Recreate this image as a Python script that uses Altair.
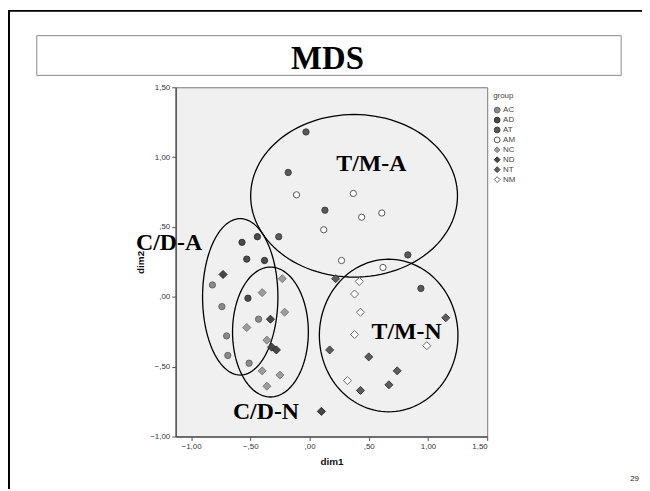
import altair as alt
import numpy as np
import pandas as pd

# ---- data ----
groups = ["AC", "AD", "AT", "AM", "NC", "ND", "NT", "NM"]

AC_x = [-0.82, -0.74, -0.43, -0.70, -0.69, -0.51]
AC_y = [0.085, -0.07, -0.16, -0.28, -0.42, -0.475]
AD_x = [-0.57, -0.44, -0.53, -0.38, -0.52]
AD_y = [0.39, 0.43, 0.27, 0.26, -0.01]
AT_x = [-0.03, -0.18, 0.13, -0.26, 0.83, 0.94]
AT_y = [1.18, 0.89, 0.62, 0.43, 0.30, 0.06]
AM_x = [-0.11, 0.37, 0.61, 0.44, 0.12, 0.27, 0.62]
AM_y = [0.73, 0.74, 0.60, 0.57, 0.48, 0.26, 0.21]
NC_x = [-0.23, -0.40, -0.21, -0.53, -0.36, -0.40, -0.25, -0.36]
NC_y = [0.13, 0.03, -0.11, -0.22, -0.31, -0.53, -0.56, -0.64]
ND_x = [-0.73, -0.33, -0.32, -0.28, 0.10]
ND_y = [0.16, -0.16, -0.36, -0.38, -0.82]
NT_x = [0.22, 0.17, 0.50, 0.74, 0.67, 0.43, 1.15]
NT_y = [0.13, -0.38, -0.43, -0.53, -0.63, -0.67, -0.15]
NM_x = [0.42, 0.38, 0.43, 0.38, 0.32, 0.99]
NM_y = [0.11, 0.02, -0.11, -0.27, -0.60, -0.35]

fills = ["#8a8a8a", "#4b4b4b", "#595959", "#ffffff", "#9c9c9c", "#474747", "#5c5c5c", "#ffffff"]
strokes = ["#666666", "#333333", "#404040", "#555555", "#7c7c7c", "#2e2e2e", "#3f3f3f", "#6a6a6a"]
shapes = ["circle"] * 4 + ["diamond"] * 4
circle_groups = groups[:4]
diamond_groups = groups[4:]

# ellipse annotations: name, centre x, centre y, radius x, radius y (data units)
ell_names = ["T/M-A", "C/D-A", "C/D-N", "T/M-N"]
ell_cx = [0.376, -0.585, -0.33, 0.668]
ell_cy = [0.723, 0.0, -0.252, -0.277]
ell_rx = [0.873, 0.318, 0.32, 0.585]
ell_ry = [0.582, 0.56, 0.465, 0.546]

# cluster labels
lab_text = ["T/M-A", "C/D-A", "C/D-N", "T/M-N"]
lab_x = [0.522, -1.186, -0.368, 0.819]
lab_y = [0.95, 0.383, -0.823, -0.255]

ticks = [-1.0, -0.5, 0.0, 0.5, 1.0, 1.5]

# ---- build tables ----
xs = [AC_x, AD_x, AT_x, AM_x, NC_x, ND_x, NT_x, NM_x]
ys = [AC_y, AD_y, AT_y, AM_y, NC_y, ND_y, NT_y, NM_y]
rows = []
for g, gx, gy in zip(groups, xs, ys):
    for a, b in zip(gx, gy):
        rows.append({"dim1": a, "dim2": b, "group": g})
pts = pd.DataFrame(rows)

t = np.linspace(0, 2 * np.pi, 121)
erows = []
for n, cx, cy, rx, ry in zip(ell_names, ell_cx, ell_cy, ell_rx, ell_ry):
    for i, a in enumerate(t):
        erows.append({"e": n, "i": i, "x": cx + rx * np.cos(a), "y": cy + ry * np.sin(a)})
ell = pd.DataFrame(erows)

labs = pd.DataFrame({"t": lab_text, "x": lab_x, "y": lab_y})

W, H = 314, 352
xscale = alt.Scale(domain=[-1.13, 1.5], nice=False, zero=False)
yscale = alt.Scale(domain=[-1.0, 1.5], nice=False, zero=False)
lblexpr = "replace(replace(format(datum.value, '.2f'), '0.', '.'), '.', ',')"

xaxis = alt.Axis(values=ticks, labelExpr=lblexpr, title="dim1", grid=False)
yaxis = alt.Axis(values=ticks, labelExpr=lblexpr, title="dim2", grid=False)

enc = dict(
    x=alt.X("dim1:Q", scale=xscale, axis=xaxis),
    y=alt.Y("dim2:Q", scale=yscale, axis=yaxis),
    fill=alt.Fill("group:N", scale=alt.Scale(domain=groups, range=fills), title="group"),
    stroke=alt.Stroke("group:N", scale=alt.Scale(domain=groups, range=strokes), title="group"),
    shape=alt.Shape("group:N", scale=alt.Scale(domain=groups, range=shapes), title="group"),
)

circles = alt.Chart(pts).transform_filter(
    alt.FieldOneOfPredicate(field="group", oneOf=circle_groups)
).mark_point(size=40, strokeWidth=1, opacity=1, filled=False).encode(**enc)

diamonds = alt.Chart(pts).transform_filter(
    alt.FieldOneOfPredicate(field="group", oneOf=diamond_groups)
).mark_point(size=66, strokeWidth=1, opacity=1, filled=False).encode(**enc)

ellipses = alt.Chart(ell).mark_line(color="black", strokeWidth=1.3, clip=False).encode(
    x=alt.X("x:Q", scale=xscale),
    y=alt.Y("y:Q", scale=yscale),
    detail="e:N",
    order="i:Q",
)

labels = alt.Chart(labs).mark_text(
    font="Liberation Serif", fontWeight="bold", fontSize=24, color="black", clip=False
).encode(
    x=alt.X("x:Q", scale=xscale),
    y=alt.Y("y:Q", scale=yscale),
    text="t:N",
)

# slide decorations (pixel positions relative to plot origin)
box = alt.Chart(pd.DataFrame({"a": [0]})).mark_rect(
    fill="white", stroke="#8a8a8a", strokeWidth=1
).encode(x=alt.value(-140), x2=alt.value(449), y=alt.value(-52), y2=alt.value(-12))

title = alt.Chart(pd.DataFrame({"t": ["MDS"]})).mark_text(
    font="Liberation Serif", fontWeight="bold", fontSize=33, color="black", baseline="middle"
).encode(x=alt.value(153), y=alt.value(-28), text="t:N")

topline = alt.Chart(pd.DataFrame({"a": [0]})).mark_rule(color="black", strokeWidth=2).encode(
    x=alt.value(-169), x2=alt.value(472), y=alt.value(-77)
)
leftline = alt.Chart(pd.DataFrame({"a": [0]})).mark_rule(color="black", strokeWidth=2).encode(
    x=alt.value(-168), y=alt.value(-78), y2=alt.value(405)
)
pagenum = alt.Chart(pd.DataFrame({"t": ["29"]})).mark_text(
    font="Liberation Sans", fontSize=8, color="#222", align="right"
).encode(x=alt.value(467), y=alt.value(395), text="t:N")

chart = alt.layer(
    topline, leftline, box, title, pagenum, ellipses, circles, diamonds, labels
).properties(
    width=W, height=H,
    autosize=alt.AutoSizeParams(type="none"),
    padding={"left": 169, "top": 78, "right": 156, "bottom": 52},
).configure_view(
    fill="#f0f0f0", stroke="#777777", strokeWidth=1
).configure_axis(
    domainColor="#555555", domainWidth=1.5, tickColor="#555555", tickSize=4,
    labelFont="Liberation Sans", labelFontSize=8, labelColor="#333333",
    titleFont="Liberation Sans", titleFontSize=10, titleFontWeight="bold", titleColor="#111111",
).configure_axisX(titlePadding=6).configure_axisY(titlePadding=4).configure_legend(
    orient="none", legendX=320, legendY=5, padding=0,
    titleFont="Liberation Sans", titleFontSize=8, titleFontWeight="normal", titleColor="#444444",
    labelFont="Liberation Sans", labelFontSize=8, labelColor="#444444",
    symbolSize=34, symbolStrokeWidth=1, rowPadding=0, labelOffset=2, titlePadding=6,
)

chart.save("out.html", embed_options={"renderer": "svg", "actions": False})
